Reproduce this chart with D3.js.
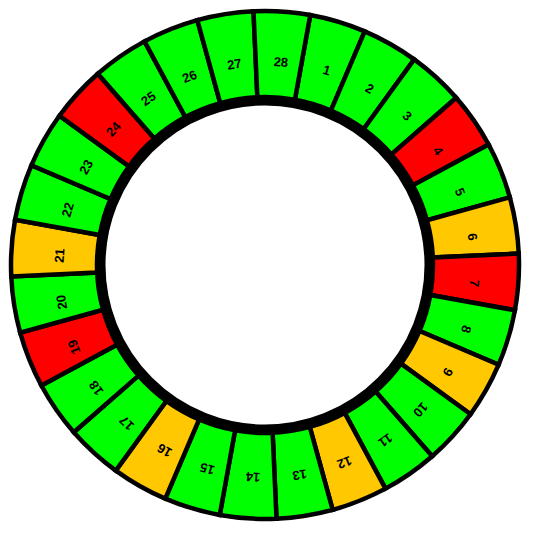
<!DOCTYPE html>
<html>
<head>
<meta charset="utf-8">
<script src="https://cdn.jsdelivr.net/npm/d3@7"></script>
<style>
  html, body { margin: 0; padding: 0; background: #ffffff; }
  svg { display: block; }
</style>
</head>
<body>
<svg id="chart" width="535" height="560"></svg>
<script>
// ---- data ----
const labels = ["1","2","3","4","5","6","7","8","9","10","11","12","13","14",
                "15","16","17","18","19","20","21","22","23","24","25","26","27","28"];
const statuses = ["ok","ok","ok","bad","ok","warn","bad","ok","warn","ok","ok","warn","ok","ok",
                  "ok","warn","ok","ok","bad","ok","warn","ok","ok","bad","ok","ok","ok","ok"];
const statusKeys = ["ok","warn","bad"];
const statusColors = ["#00ff00","#ffc800","#ff0000"];

// ---- layout ----
const cx = 265, cy = 265;
const rOuter = 254, rInner = 168;
const startDeg = 10.26;

const svg = d3.select("#chart");
const g = svg.append("g").attr("transform", `translate(${cx},${cy})`);

const color = d3.scaleOrdinal().domain(statusKeys).range(statusColors);

const items = labels.map((l, i) => ({ label: l, status: statuses[i] }));

const pie = d3.pie()
  .value(() => 1)
  .sort(null)
  .startAngle(startDeg * Math.PI / 180)
  .endAngle(startDeg * Math.PI / 180 + 2 * Math.PI);

const arcs = pie(items);
const arc = d3.arc().innerRadius(rInner).outerRadius(rOuter);

g.selectAll("path.seg")
  .data(arcs)
  .join("path")
  .attr("class", "seg")
  .attr("d", arc)
  .attr("fill", d => color(d.data.status))
  .attr("stroke", "#000")
  .attr("stroke-width", 4.5)
  .attr("stroke-linejoin", "miter");

// thick inner black ring
g.append("circle")
  .attr("r", 164)
  .attr("fill", "#fff")
  .attr("stroke", "#000")
  .attr("stroke-width", 9);

// labels
const rLabel = 208;
g.selectAll("text.lbl")
  .data(arcs)
  .join("text")
  .attr("class", "lbl")
  .attr("transform", d => {
    const a = (d.startAngle + d.endAngle) / 2;
    const x = rLabel * Math.sin(a) + 2;
    const y = -rLabel * Math.cos(a) + 4.5;
    return `translate(${x},${y}) rotate(${a * 180 / Math.PI})`;
  })
  .attr("text-anchor", "middle")
  .attr("dominant-baseline", "central")
  .attr("font-family", "Liberation Sans, Arial, sans-serif")
  .attr("font-size", 13)
  .attr("font-weight", "bold")
  .attr("fill", "#000")
  .text(d => d.data.label);
</script>
</body>
</html>
